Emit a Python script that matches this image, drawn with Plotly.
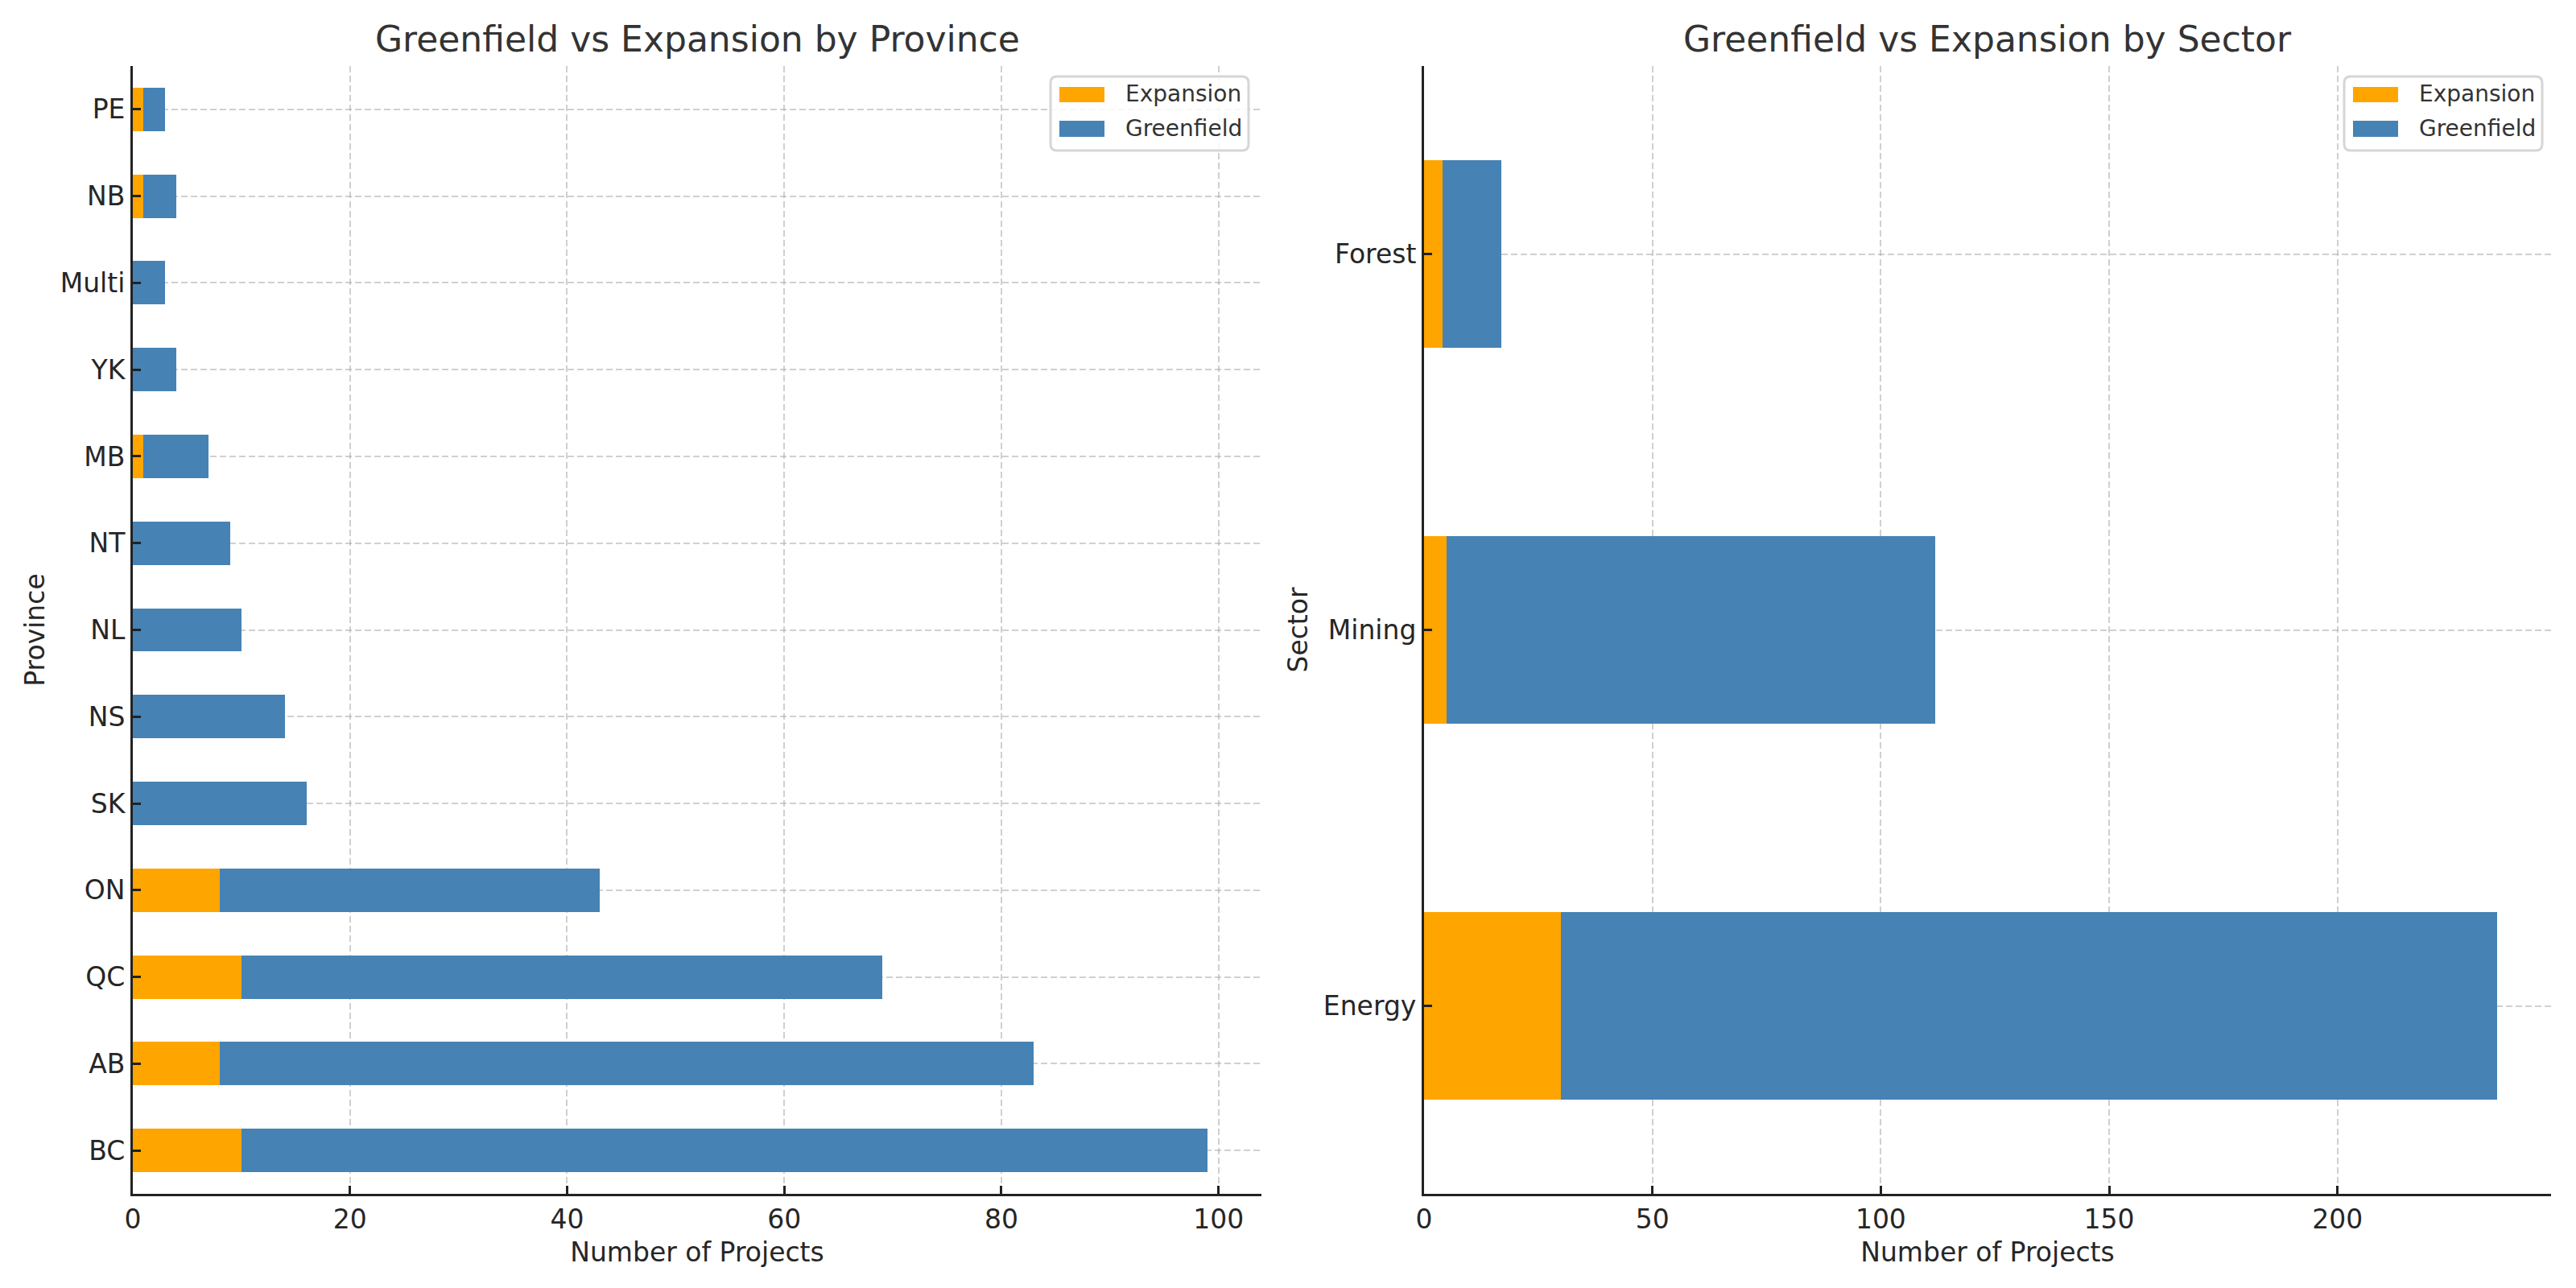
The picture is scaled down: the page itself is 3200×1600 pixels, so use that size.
import plotly.graph_objects as go
from plotly.subplots import make_subplots

# province counts, listed bottom -> top as drawn
PROVINCES = ["BC", "AB", "QC", "ON", "SK", "NS", "NL", "NT", "MB", "YK", "Multi", "NB", "PE"]
PROV_EXPANSION = [10, 8, 10, 8, 0, 0, 0, 0, 1, 0, 0, 1, 1]
PROV_GREENFIELD = [89, 75, 59, 35, 16, 14, 10, 9, 6, 4, 3, 3, 2]

SECTORS = ["Energy", "Mining", "Forest"]
SECT_EXPANSION = [30, 5, 4]
SECT_GREENFIELD = [205, 107, 13]

SERIES = ["Expansion", "Greenfield"]

ORANGE = "#FFA500"
BLUE = "#4682B4"
FONT = "DejaVu Sans"
GRID = "rgba(170,170,170,0.55)"

# page has an 8px body margin, so the figure is a bit smaller than the window
W, H, OFF = 3184, 1584, 8


def px(x):
    return (x - OFF) / W


def py(y):
    return 1 - (y - OFF) / H


DOM_L = [px(165), px(1567)]
DOM_R = [px(1769), px(3169)]
DOM_Y = [py(1483), py(82)]

fig = make_subplots(rows=1, cols=2,
                    subplot_titles=["Greenfield vs Expansion by Province",
                                    "Greenfield vs Expansion by Sector"])

for col, cats, exp, grn in [
    (1, PROVINCES, PROV_EXPANSION, PROV_GREENFIELD),
    (2, SECTORS, SECT_EXPANSION, SECT_GREENFIELD),
]:
    fig.add_trace(go.Bar(y=cats, x=exp, orientation="h", name=SERIES[0],
                         marker=dict(color=ORANGE, line_width=0), width=0.5,
                         showlegend=False), row=1, col=col)
    fig.add_trace(go.Bar(y=cats, x=grn, orientation="h", name=SERIES[1],
                         marker=dict(color=BLUE, line_width=0), width=0.5,
                         showlegend=False), row=1, col=col)

axis_common = dict(
    showline=True, linecolor="#222222", linewidth=3, mirror=False,
    ticks="inside", ticklen=10, tickwidth=3, tickcolor="#222222",
    showgrid=True, gridcolor=GRID, gridwidth=2, griddash="8px,4px",
    zeroline=False, layer="above traces", automargin=False,
    tickfont=dict(family=FONT, size=33, color="#262626"),
)
title_font = dict(family=FONT, size=33, color="#262626")

prov_max = max(e + g for e, g in zip(PROV_EXPANSION, PROV_GREENFIELD))
sect_max = max(e + g for e, g in zip(SECT_EXPANSION, SECT_GREENFIELD))

fig.update_xaxes(axis_common)
fig.update_yaxes(axis_common)

fig.update_xaxes(range=[0, prov_max * 1.05], dtick=20, domain=DOM_L,
                 title=dict(text="Number of Projects", standoff=12, font=title_font),
                 row=1, col=1)
fig.update_xaxes(range=[0, sect_max * 1.05], dtick=50, domain=DOM_R,
                 title=dict(text="Number of Projects", standoff=12, font=title_font),
                 row=1, col=2)
fig.update_yaxes(range=[-0.5, len(PROVINCES) - 0.5], domain=DOM_Y,
                 title=dict(text="Province", standoff=10, font=title_font),
                 row=1, col=1)
fig.update_yaxes(range=[-0.5, len(SECTORS) - 0.5], domain=DOM_Y,
                 title=dict(text="Sector", standoff=10, font=title_font),
                 row=1, col=2)

fig.update_layout(
    barmode="stack",
    width=W, height=H,
    margin=dict(l=0, r=0, t=0, b=0),
    paper_bgcolor="white", plot_bgcolor="white",
    font=dict(family=FONT, color="#262626"),
    showlegend=False,
)

# subplot titles centred over the moved domains
for ann, dom in zip(fig.layout.annotations, [DOM_L, DOM_R]):
    ann.update(x=(dom[0] + dom[1]) / 2, y=py(49), yanchor="middle",
               font=dict(family=FONT, size=44, color="#333333"))


def rounded_box(x0, y0, x1, y1, r=8):
    pts = [
        f"M{px(x0 + r)},{py(y0)}", f"L{px(x1 - r)},{py(y0)}",
        f"Q{px(x1)},{py(y0)} {px(x1)},{py(y0 + r)}", f"L{px(x1)},{py(y1 - r)}",
        f"Q{px(x1)},{py(y1)} {px(x1 - r)},{py(y1)}", f"L{px(x0 + r)},{py(y1)}",
        f"Q{px(x0)},{py(y1)} {px(x0)},{py(y1 - r)}", f"L{px(x0)},{py(y0 + r)}",
        f"Q{px(x0)},{py(y0)} {px(x0 + r)},{py(y0)}", "Z",
    ]
    return " ".join(pts)


# matplotlib-style legend in the upper right of each panel
for right in [1551, 3158]:
    fig.add_shape(type="path", xref="paper", yref="paper",
                  path=rounded_box(right - 246, 95, right, 187),
                  fillcolor="rgba(255,255,255,0.85)",
                  line=dict(color="#d6d6d6", width=3), layer="above")
    for name, color, (top, bot) in zip(SERIES, [ORANGE, BLUE], [(108, 127), (150, 170)]):
        fig.add_shape(type="rect", xref="paper", yref="paper",
                      x0=px(right - 235), x1=px(right - 179), y0=py(bot), y1=py(top),
                      fillcolor=color, line_width=0, layer="above")
        fig.add_annotation(xref="paper", yref="paper", x=px(right - 155),
                           y=py((top + bot) / 2 - 1), xanchor="left", yanchor="middle",
                           text=name, showarrow=False,
                           font=dict(family=FONT, size=28, color="#333333"))

fig.write_html("out.html")
